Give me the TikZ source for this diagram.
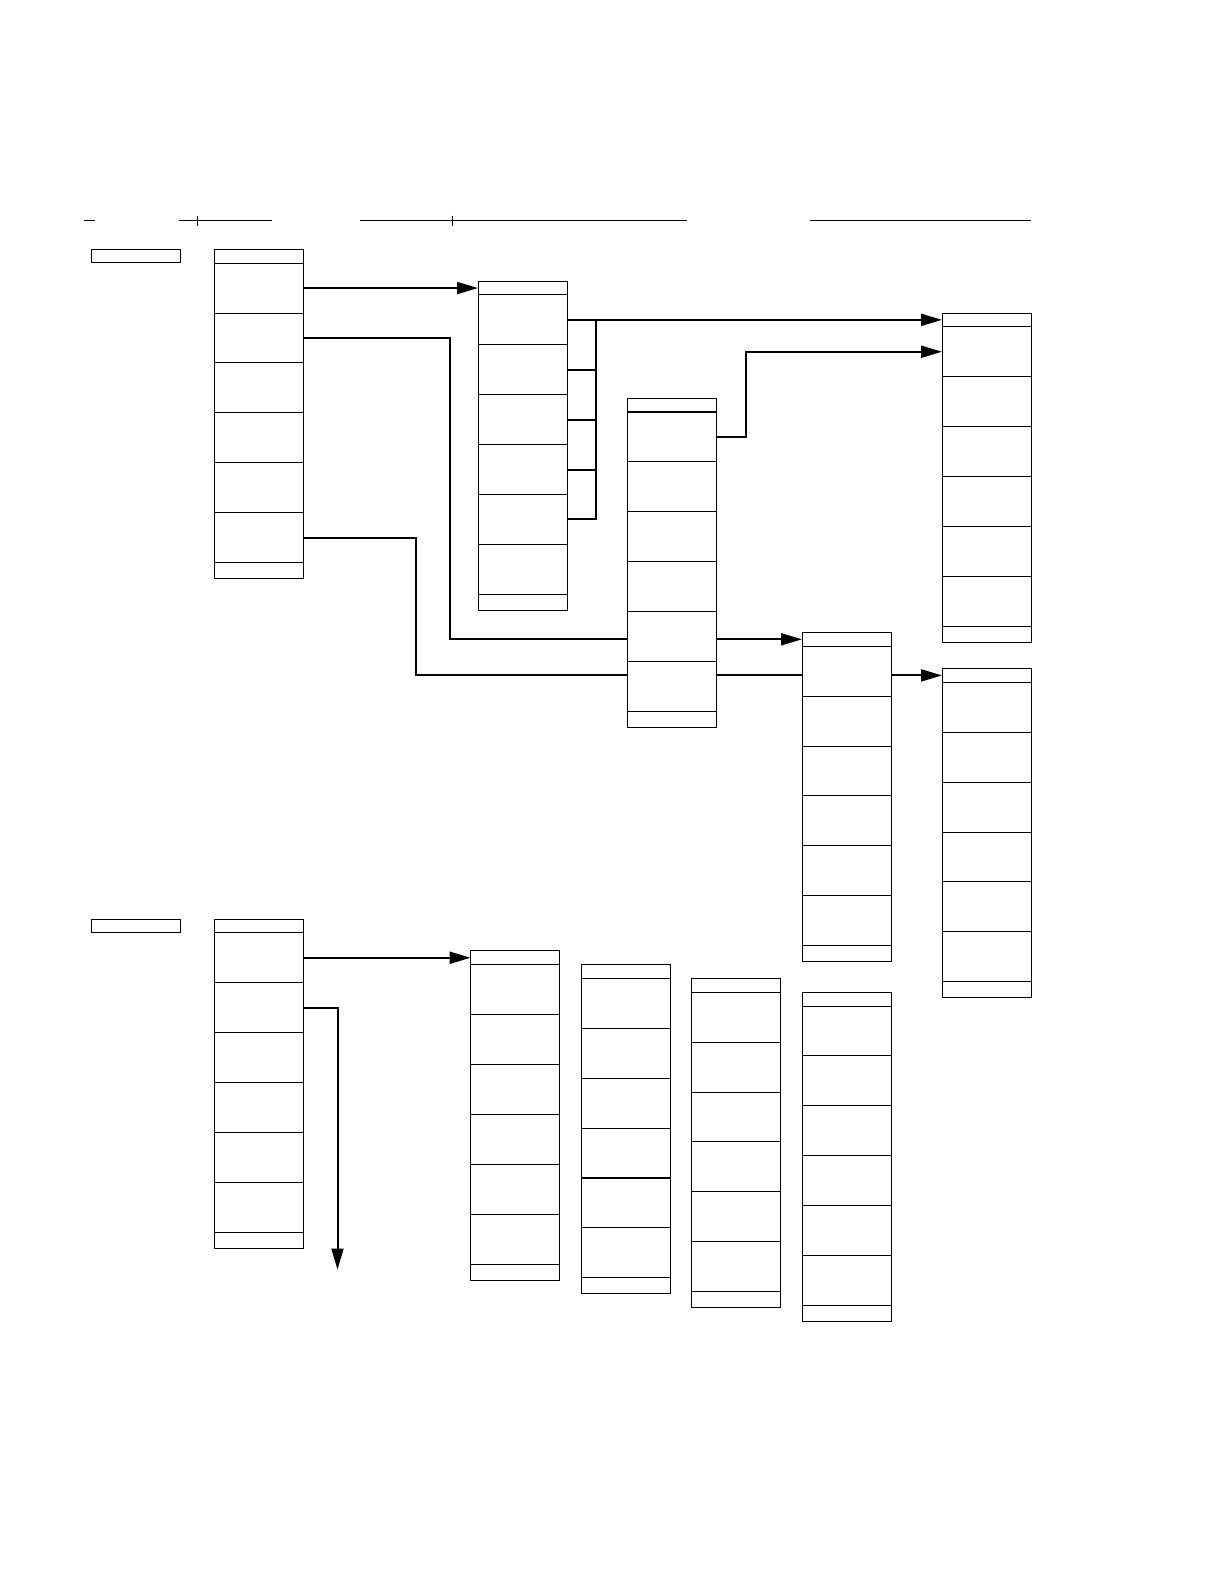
\documentclass[tikz,border=0pt]{standalone}
\usetikzlibrary{arrows.meta}
\tikzset{
  box/.style={draw, line width=0.5pt, inner sep=0pt, outer sep=0pt, minimum width=44.5pt},
  hdr/.style={box, minimum height=6.9pt},
  cell/.style={box, minimum height=24.95pt},
  ftr/.style={box, minimum height=8pt},
  lbl/.style={box, minimum width=44.5pt, minimum height=6.6pt},
  conn/.style={line width=1pt},
  arr/.style={conn, -{Triangle[length=10.5pt, width=6pt]}},
  rule/.style={line width=0.6pt},
  thickdiv/.style={line width=0.9pt}
}
\newcommand\tblcol[3]{%
  \node[hdr, anchor=north west] (#1-0) at (#2,#3) {};
  \foreach \i [count=\j from 0] in {1,...,6} {\node[cell, anchor=north] (#1-\i) at (#1-\j.south) {};}
  \node[ftr, anchor=north] (#1-7) at (#1-6.south) {};
}
\begin{document}
\begin{tikzpicture}[x=0.5pt, y=-0.5pt]
\useasboundingbox (0,0) rectangle (1224,1584);

% top rule lines
\coordinate (r1a) at (84,220.3);  \coordinate (r1b) at (94.7,220.3);
\coordinate (r2a) at (179,220.3); \coordinate (r2b) at (271.7,220.3);
\coordinate (t2a) at (197.3,215.7); \coordinate (t2b) at (197.3,225.7);
\coordinate (r3a) at (360,220.3); \coordinate (r3b) at (687,220.3);
\coordinate (t3a) at (452.3,215.7); \coordinate (t3b) at (452.3,225.7);
\coordinate (r4a) at (810,220.3); \coordinate (r4b) at (1030.5,220.3);
\draw[rule] (r1a) -- (r1b);
\draw[rule] (r2a) -- (r2b);
\draw[rule] (t2a) -- (t2b);
\draw[rule] (r3a) -- (r3b);
\draw[rule] (t3a) -- (t3b);
\draw[rule] (r4a) -- (r4b);

% label boxes
\node[lbl, anchor=north west] (L1) at (91.3,249.3) {};
\node[lbl, anchor=north west] (L2) at (91.3,919.5) {};

% columns
\tblcol{A}{214.3}{249.3}
\tblcol{B}{478}{281.1}
\tblcol{C}{627}{398}
\tblcol{D}{942}{313}
\tblcol{E}{802}{632.4}
\tblcol{F}{942}{668.5}
\tblcol{G}{214.3}{919}
\tblcol{H}{470.6}{950.8}
\tblcol{I}{581.7}{964.6}
\tblcol{J}{691.8}{978.4}
\tblcol{K}{802}{992.2}

% thicker dividers
\draw[thickdiv] (C-0.south west) -- (C-0.south east);
\draw[thickdiv] (I-4.south west) -- (I-4.south east);

% junction coordinates
\coordinate (j1) at (450.4,0);
\coordinate (j2) at (416,0);
\coordinate (j3) at (595.7,0);
\coordinate (j4) at (746.3,0);
\coordinate (j5) at (337.5,1269.5);

% connectors
\draw[arr] (A-1.east) -- (A-1.east -| B-0.west);
\draw[conn] (A-2.east) -| (j1 |- E-0.west) -- (E-0.west -| C-0.west);
\draw[arr] (E-0.west -| C-0.east) -- (E-0.west);
\draw[conn] (A-6.east) -| (j2 |- F-0.west) -- (F-0.west -| C-0.west);
\draw[conn] (F-0.west -| C-0.east) -- (F-0.west -| E-0.west);
\draw[arr] (F-0.west -| E-0.east) -- (F-0.west);
\draw[arr] (B-1.east) -- (B-1.east -| D-0.west);
\draw[conn] (B-1.east -| j3) |- (B-5.east);
\foreach \k in {2,3,4} {\draw[conn] (B-\k.east) -- (B-\k.east -| j3);}
\draw[arr] (C-1.east) -| (j4 |- D-1.west) -- (D-1.west);
\draw[arr] (G-1.east) -- (G-1.east -| H-0.west);
\draw[arr] (G-2.east) -| (j5);
\end{tikzpicture}
\end{document}
